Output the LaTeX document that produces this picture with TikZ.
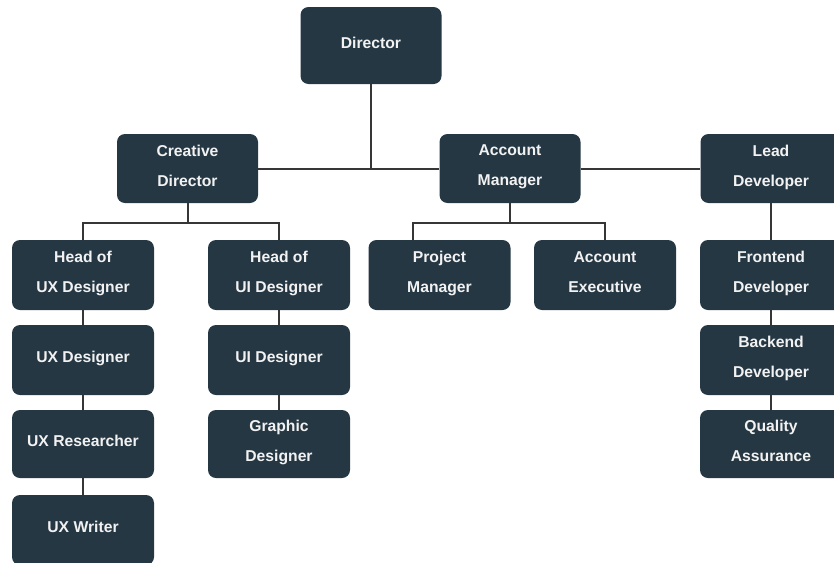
\documentclass[tikz,border=0pt]{standalone}
\usepackage{fontspec}
\setmainfont{Liberation Sans}
\definecolor{boxc}{HTML}{253743}
\definecolor{linec}{HTML}{363636}
\definecolor{txtc}{HTML}{F2F2F2}
\tikzset{
  role/.style={fill=boxc, rounded corners=8pt, minimum width=142pt, minimum height=70pt,
    inner sep=0pt, align=center, text=txtc, text depth=6pt,
    font=\bfseries\fontsize{15.7}{30}\selectfont},
  toprole/.style={role, minimum width=141pt, minimum height=69pt},
  link/.style={draw=linec, line width=2pt}
}
\begin{document}
\begin{tikzpicture}[x=1pt, y=-1pt]
\useasboundingbox (0,0) rectangle (834,562);
\clip (0,0) rectangle (834,562);
% nodes
\node[toprole, minimum height=77pt] (dir) at (371,45.5) {Director};
\node[toprole] (cd) at (187.5,168.5) {Creative\\Director};
\node[toprole] (am) at (510,168.5) {Account\\Manager};
\node[toprole] (ld) at (771,168.5) {Lead\\Developer};
\node[role] (hux) at (83,275) {Head of\\UX Designer};
\node[role] (hui) at (279,275) {Head of\\UI Designer};
\node[role] (pm) at (439.5,275) {Project\\Manager};
\node[role] (ae) at (605,275) {Account\\Executive};
\node[role] (fe) at (771,275) {Frontend\\Developer};
\node[role] (uxd) at (83,360) {UX Designer};
\node[role] (uid) at (279,360) {UI Designer};
\node[role] (be) at (771,360) {Backend\\Developer};
\node[role, minimum height=68pt] (uxr) at (83,444) {UX Researcher};
\node[role, minimum height=68pt] (gd) at (279,444) {Graphic\\Designer};
\node[role, minimum height=68pt] (qa) at (771,444) {Quality\\Assurance};
\node[role] (uxw) at (83,530) {UX Writer};
% connectors
\coordinate (j) at (dir.south |- cd.east);
\draw[link] (dir.south) -- (j);
\draw[link] (cd.east) -- (am.west);
\draw[link] (am.east) -- (ld.west);
\draw[link] (cd.south) -- ++(0,20) -| (hux.north);
\draw[link] (cd.south) -- ++(0,20) -| (hui.north);
\draw[link] (am.south) -- ++(0,20) -| ([xshift=-27pt]pm.north);
\draw[link] (am.south) -- ++(0,20) -| (ae.north);
\draw[link] (ld.south) -- (fe.north);
\draw[link] (fe.south) -- (be.north);
\draw[link] (be.south) -- (qa.north);
\draw[link] (hux.south) -- (uxd.north);
\draw[link] (uxd.south) -- (uxr.north);
\draw[link] (uxr.south) -- (uxw.north);
\draw[link] (hui.south) -- (uid.north);
\draw[link] (uid.south) -- (gd.north);
\end{tikzpicture}
\end{document}
